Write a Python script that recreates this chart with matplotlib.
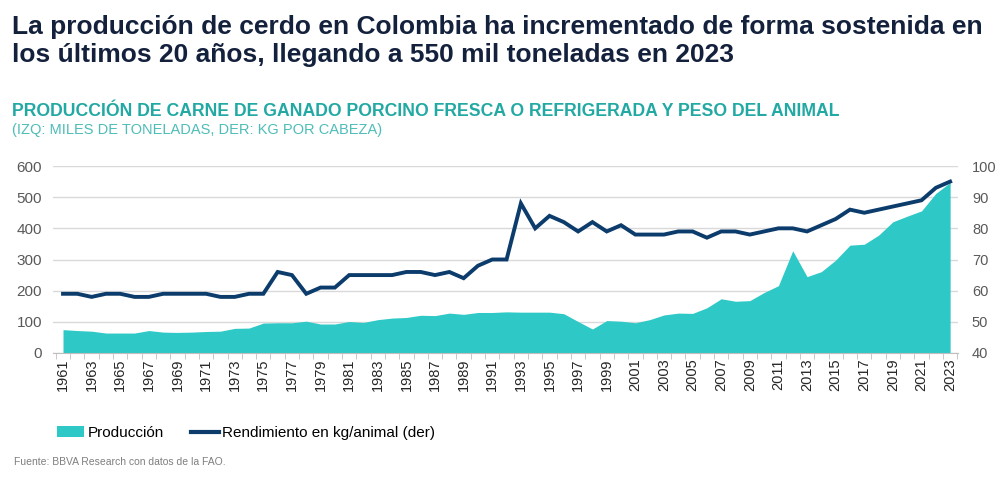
import matplotlib
matplotlib.use("Agg")
from matplotlib import pyplot as plt
from matplotlib.patches import Patch
from matplotlib.lines import Line2D
import numpy as np

plt.rcParams['font.family'] = ['Liberation Sans', 'DejaVu Sans']

years = list(range(1961, 2024))
produccion = [75, 72, 70, 64, 64, 64, 72, 67, 66, 67,
              69, 70, 79, 80, 96, 97, 97, 102, 93, 93,
              101, 98, 107, 112, 114, 121, 120, 128, 124, 130,
              130, 132, 131, 131, 131, 126, 101, 77, 104, 102,
              97, 107, 122, 128, 127, 145, 174, 166, 168, 194,
              216, 328, 245, 261, 298, 346, 349, 378, 421, 439,
              456, 512, 547]
rendimiento = [59, 59, 58, 59, 59, 58, 58, 59, 59, 59,
               59, 58, 58, 59, 59, 66, 65, 59, 61, 61,
               65, 65, 65, 65, 66, 66, 65, 66, 64, 68,
               70, 70, 88, 80, 84, 82, 79, 82, 79, 81,
               78, 78, 78, 79, 79, 77, 79, 79, 78, 79,
               80, 80, 79, 81, 83, 86, 85, 86, 87, 88,
               89, 93, 95]

titulo = ("La producción de cerdo en Colombia ha incrementado de forma sostenida en\n"
          "los últimos 20 años, llegando a 550 mil toneladas en 2023")
subtitulo = "PRODUCCIÓN DE CARNE DE GANADO PORCINO FRESCA O REFRIGERADA Y PESO DEL ANIMAL"
unidades = "(IZQ: MILES DE TONELADAS, DER: KG POR CABEZA)"
fuente = "Fuente: BBVA Research con datos de la FAO."

teal = '#2ec8c6'
navy = '#0c3c6c'
gray = '#595959'

fig = plt.figure(figsize=(10, 4.78), dpi=100)
ax = fig.add_axes([0.053, 1 - 353 / 478, 0.905, (353 - 166) / 478])
ax2 = ax.twinx()

ax.fill_between(years, produccion, 0, color=teal, lw=0, zorder=2)
ax2.plot(years, rendimiento, color=navy, lw=2.8, solid_joinstyle='miter', zorder=3)

ax.set_xlim(1960.3, 2023.55)
ax.set_ylim(0, 600)
ax2.set_ylim(40, 100)
ax.set_yticks(range(0, 601, 100))
ax2.set_yticks(range(40, 101, 10))
ax.grid(axis='y', color='#d9d9d9', lw=1, zorder=0)
ax.set_axisbelow(True)

for a in (ax, ax2):
    for s in ('top', 'left', 'right'):
        a.spines[s].set_visible(False)
ax2.spines['bottom'].set_visible(False)
ax.spines['bottom'].set_color('#bfbfbf')
ax.spines['bottom'].set_linewidth(0.8)

ax.set_xticks(years[::2])
ax.set_xticklabels([str(y) for y in years[::2]], rotation=90, fontsize=10.5, color='#262626')
ax.set_xticks(np.arange(1960.5, 2024, 1), minor=True)
ax.tick_params(axis='x', which='major', length=0, pad=4)
ax.tick_params(axis='x', which='minor', length=4, color='#bfbfbf')
ax.tick_params(axis='y', length=0, labelsize=11, labelcolor=gray, pad=8)
ax2.tick_params(axis='y', length=0, labelsize=10.5, labelcolor=gray, pad=10)

fig.text(0.012, 0.915, titulo, fontsize=19, fontweight='bold', color='#14213d',
         va='center', linespacing=1.2)
fig.text(0.012, 0.767, subtitulo, fontsize=12.7, fontweight='bold', color='#23a9a4',
         va='center')
fig.text(0.012, 0.728, unidades, fontsize=10.5, color='#4dbdb8', va='center')
fig.text(0.014, 0.034, fuente, fontsize=7.5, color='#7f7f7f', va='center')

handles = [Patch(facecolor=teal, edgecolor='none'),
           Line2D([0], [0], color=navy, lw=3)]
fig.legend(handles, ['Producción', 'Rendimiento en kg/animal (der)'],
           loc='center left', bbox_to_anchor=(0.043, 0.094), ncol=2, frameon=False,
           fontsize=11, handlelength=1.8, handletextpad=0.2, columnspacing=1.8)

fig.savefig('out.png', dpi=100)
